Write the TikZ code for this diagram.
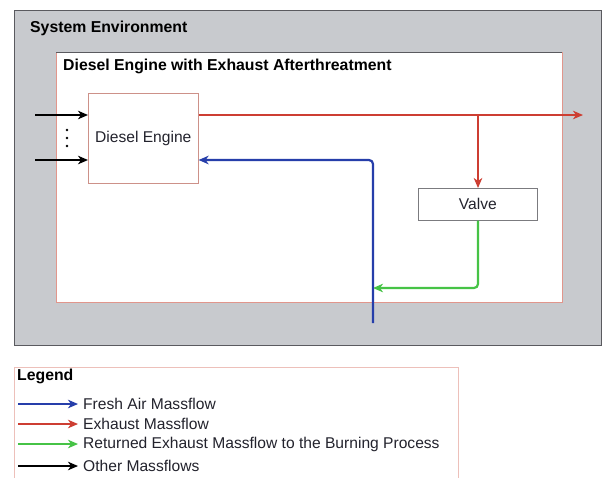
\documentclass[tikz,border=0pt]{standalone}
\usepackage{fontspec}
\setmainfont{Liberation Sans}
\usetikzlibrary{arrows.meta}
\definecolor{envgray}{RGB}{200,202,206}
\definecolor{flowred}{RGB}{205,62,50}
\definecolor{flowblue}{RGB}{38,62,170}
\definecolor{flowgreen}{RGB}{70,195,70}
\definecolor{frameline}{RGB}{90,90,95}
\definecolor{softred}{RGB}{225,150,140}
\definecolor{inkgray}{RGB}{35,35,45}
\tikzset{
  x=1pt, y=-1pt,
  tip/.style={-{Stealth[length=10pt,width=8.5pt,inset=3pt]}},
  block/.style={draw=frameline!70, line width=0.6pt, fill=white, inner sep=0pt, anchor=north west},
  flow/.style={line width=2.2pt, tip, rounded corners=4pt},
  title/.style={font=\fontsize{15.8}{18}\selectfont\bfseries, anchor=west, inner sep=0pt, text=black},
  label/.style={font=\fontsize{15.6}{18}\selectfont, inner sep=0pt, text=inkgray},
}
\begin{document}
\begin{tikzpicture}
\useasboundingbox (0,0) rectangle (602,477);
\fill[white] (0,0) rectangle (602,477);
% system environment frame
\draw[frameline, fill=envgray, line width=0.6pt] (14,10) rectangle (601.5,345);
\node[title] (envt) at (30,28) {System Environment};
% engine with aftertreatment
\draw[softred, fill=white, line width=0.6pt] (56,52) rectangle (562,302);
\draw[frameline, line width=0.6pt] (56,52) -- (562,52);
\node[title] (sub) at (63,66) {Diesel Engine with Exhaust Afterthreatment};
% components
\node[block, minimum width=110pt, minimum height=90pt, draw=softred!80!gray] (eng) at (88,93) {};
\node[label] at (eng.center) {Diesel Engine};
\node[block, minimum width=119pt, minimum height=32pt, draw=frameline!80] (valve) at (418,188) {};
\node[label] at (valve.center) {Valve};
% inputs
\coordinate (in1) at (35,115);
\coordinate (in2) at (35,160);
\draw[line width=1.6pt, tip] (in1) -- (eng.west |- in1);
\draw[line width=1.6pt, tip] (in2) -- (eng.west |- in2);
\foreach \yy in {130,138,146} \fill (67,\yy) circle (1.4pt);
% exhaust
\coordinate (exo) at (583,115);
\coordinate (split) at (478,115);
\draw[flow, flowred, rounded corners=0pt] (eng.east |- exo) -- (exo);
\draw[flow, flowred] (split) -- (valve.north -| split);
% returned exhaust
\coordinate (fresh) at (373,323);
\draw[flow, flowgreen] (valve.south -| split) |- (373,288);
% fresh air
\draw[flow, flowblue] (fresh) |- (eng.east |- 0,160);
% legend
\draw[softred!60, line width=0.6pt] (14,367) rectangle (458,478);
\node[title] (leg) at (17,376) {Legend};
\foreach \yy/\cc/\tt in {404/flowblue/Fresh Air Massflow, 424/flowred/Exhaust Massflow, 444/flowgreen/Returned Exhaust Massflow to the Burning Process, 466/black/Other Massflows}{
  \draw[\cc, line width=1.9pt, tip] (18,\yy) -- (78,\yy);
  \node[label, anchor=west] at (83,\yy) {\tt};
}
\end{tikzpicture}
\end{document}
